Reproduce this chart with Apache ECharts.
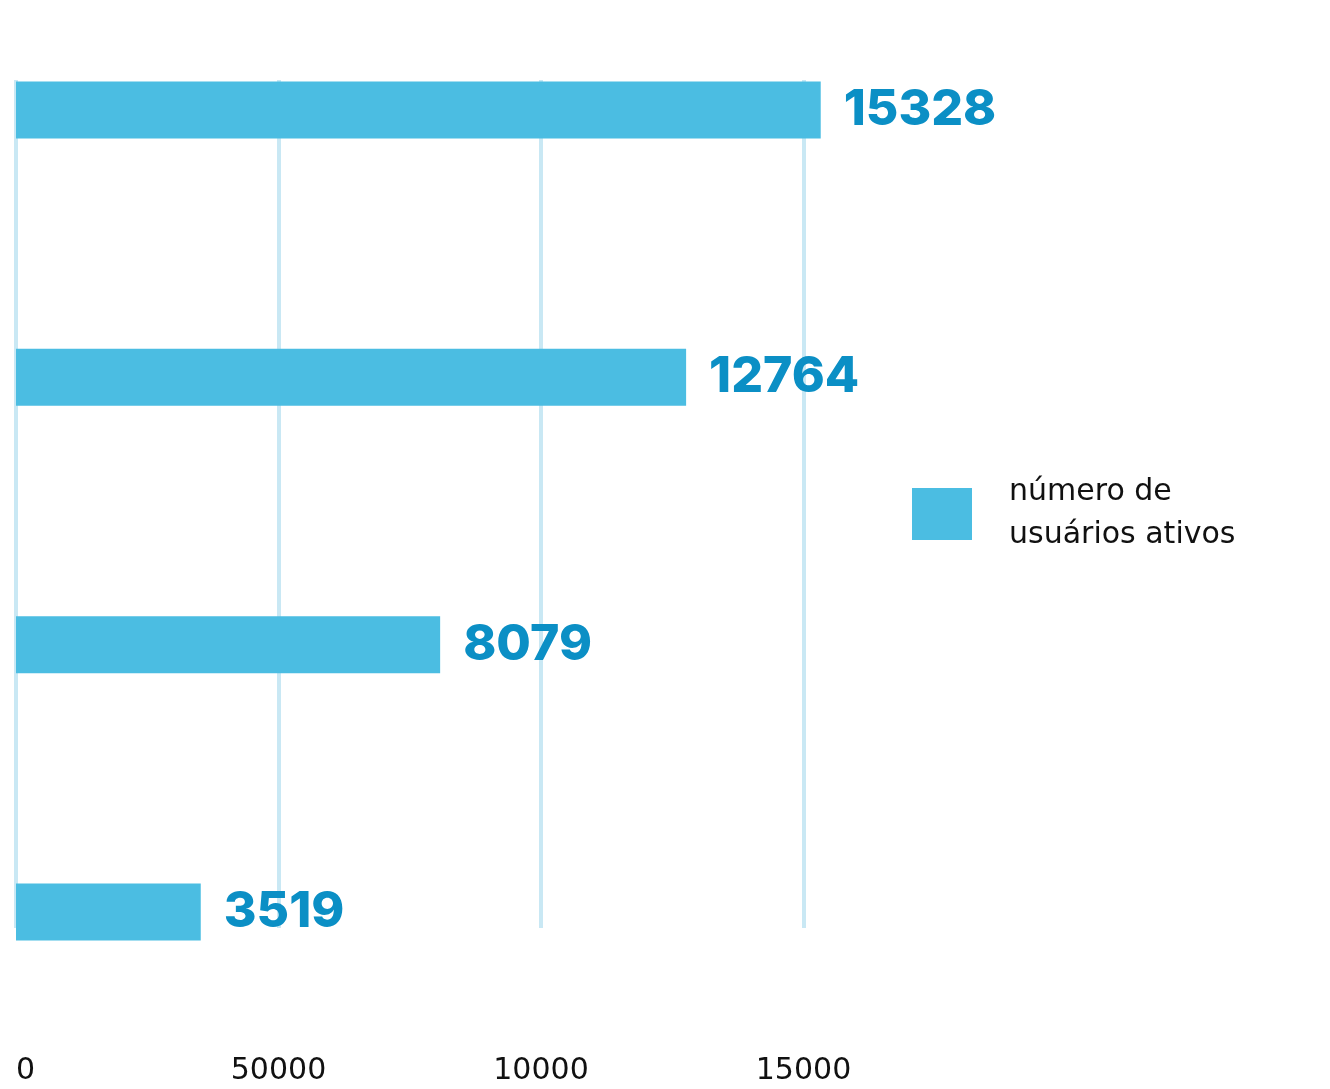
<!DOCTYPE html>
<html>
<head>
<meta charset="utf-8">
<script src="https://cdn.jsdelivr.net/npm/echarts@6/dist/echarts.min.js"></script>
<style>
  html, body { margin: 0; padding: 0; background: #ffffff; }
  #chart { width: 1330px; height: 1089px; }
</style>
</head>
<body>
<div id="chart"></div>
<script>
// ---- data ----
const categories = ['1', '2', '3', '4'];
const seriesName = 'número de\nusuários ativos';
const activeUsers = [15328, 12764, 8079, 3519];
const tickValues = [0, 5000, 10000, 15000];
const tickLabels = ['0', '50000', '10000', '15000'];

const barColor = '#4bbde2';
const labelColor = '#0b8fc5';
const gridColor = '#c9e8f4';

const chart = echarts.init(document.getElementById('chart'), null, { renderer: 'canvas' });

const option = {
  backgroundColor: '#ffffff',
  animation: false,
  grid: [
    { left: 16, top: 110, width: 892.5, height: 802, containLabel: false },
    { left: 16, top: 80, width: 892.5, height: 848, containLabel: false }
  ],
  xAxis: [
    {
      gridIndex: 0, type: 'value', min: 0, max: 17000, interval: 5000,
      show: false
    },
    {
      gridIndex: 1, type: 'value', min: 0, max: 17000, interval: 5000,
      axisLine: { show: false }, axisTick: { show: false },
      splitLine: { show: true, showMaxLine: false, lineStyle: { color: gridColor, width: 4 } },
      axisLabel: {
        show: true, margin: 128, showMaxLabel: false, alignMinLabel: 'left',
        color: '#111111', fontFamily: 'DejaVu Sans', fontSize: 30,
        formatter: function (v) {
          const i = tickValues.indexOf(v);
          return i >= 0 ? tickLabels[i] : '';
        }
      }
    }
  ],
  yAxis: [
    { gridIndex: 0, type: 'category', data: categories, inverse: true, boundaryGap: false, show: false },
    { gridIndex: 1, type: 'category', data: categories, inverse: true, show: false }
  ],
  legend: {
    left: 912, top: 471, orient: 'vertical', padding: 0,
    itemWidth: 60, itemHeight: 52,
    icon: 'rect',
    data: [seriesName],
    textStyle: {
      color: '#111111', fontFamily: 'DejaVu Sans', fontSize: 30, lineHeight: 43,
      padding: [0, 0, 0, 32]
    }
  },
  series: [
    {
      name: seriesName, type: 'bar', xAxisIndex: 0, yAxisIndex: 0,
      data: activeUsers, barWidth: 57, z: 3,
      itemStyle: { color: barColor },
      label: {
        show: true, position: 'right', distance: 23,
        color: labelColor, fontFamily: 'Inter', fontWeight: 800, fontSize: 50
      }
    }
  ]
};

chart.setOption(option);
</script>
</body>
</html>
